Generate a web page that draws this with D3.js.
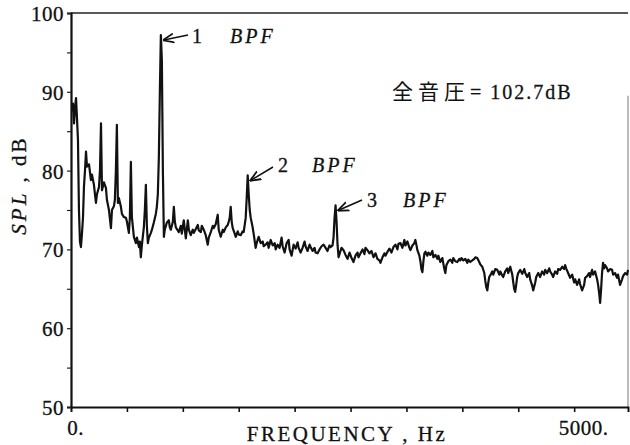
<!DOCTYPE html>
<html><head><meta charset="utf-8">
<script src="https://cdn.jsdelivr.net/npm/d3@7"></script>
<style>body{margin:0;background:#fff}svg{display:block}
svg text{font-family:"Liberation Serif","DejaVu Serif",serif}
svg text.cjk{font-family:"Noto Sans CJK JP","Noto Sans CJK SC",sans-serif}</style>
</head><body><svg id="c" width="630" height="445"></svg>
<script>
const freqHz = [10,20,30,40,50,60,69,79,89,99,109,119,129,139,149,159,179,198,208,228,238,248,258,278,288,298,308,327,347,357,377,397,407,427,436,446,456,466,476,496,506,526,546,556,575,585,595,605,625,645,655,675,684,694,704,724,734,744,754,764,774,794,804,823,843,853,863,873,883,893,903,913,923,932,952,972,982,992,1002,1012,1022,1032,1042,1061,1071,1091,1101,1121,1131,1141,1151,1161,1171,1190,1210,1220,1240,1260,1270,1290,1300,1319,1339,1359,1369,1389,1409,1419,1438,1448,1458,1468,1488,1508,1518,1538,1557,1567,1577,1587,1597,1607,1627,1637,1657,1667,1686,1706,1716,1736,1746,1756,1766,1776,1786,1805,1815,1835,1845,1855,1865,1885,1905,1915,1934,1954,1964,1984,2004,2024,2034,2053,2073,2093,2103,2123,2143,2163,2172,2192,2212,2232,2252,2262,2282,2301,2321,2331,2351,2371,2381,2401,2420,2430,2450,2470,2490,2510,2530,2549,2569,2579,2599,2609,2619,2629,2639,2649,2659,2678,2688,2708,2728,2748,2768,2788,2807,2827,2847,2857,2877,2897,2916,2926,2946,2966,2986,3006,3026,3045,3065,3075,3095,3115,3125,3145,3164,3184,3204,3224,3244,3254,3274,3293,3313,3323,3343,3363,3373,3393,3412,3422,3432,3442,3462,3472,3482,3492,3502,3512,3522,3541,3551,3571,3591,3601,3621,3641,3651,3670,3690,3700,3710,3720,3730,3750,3770,3789,3799,3819,3839,3859,3869,3879,3899,3918,3938,3948,3968,3988,4008,4018,4037,4057,4067,4087,4107,4117,4127,4137,4147,4156,4166,4186,4196,4216,4236,4256,4266,4285,4295,4315,4335,4345,4365,4385,4395,4404,4414,4424,4434,4444,4464,4484,4504,4514,4533,4553,4563,4583,4593,4613,4623,4643,4662,4682,4702,4712,4732,4752,4762,4781,4791,4811,4831,4841,4861,4881,4900,4910,4920,4940,4960,4980,5000,5010,5029,5049,5059,5079,5099,5109,5129,5148,5158,5178,5188,5208,5228,5238,5248,5258,5268,5277,5287,5297,5307,5327,5337,5357,5377,5387,5406,5426,5436,5456,5476,5486,5506,5526,5535];
const splDb = [87.5,88.5,86,88,89.2,86.5,84,75,71,70.3,72,74,78,80,82.4,80.5,80.8,78.8,79.5,78.2,77,75.9,77,77.9,80,86,77.5,78.5,77.8,76.3,75,72.7,75,75.5,76.3,80,85.8,75.9,76.5,75.4,74.5,74.1,74,73.5,72.1,74,81.1,74.1,71.6,70.8,71.5,70.3,71,69,70.5,72.8,75,78.2,73,70.8,71.5,72.1,72.5,73.4,74.5,75.4,77,81.7,90,97.2,94,80,71.6,72.5,73.4,73.7,72.8,72.5,73,73.5,75.4,73.5,72.8,72.4,72.2,73,72,73.7,72.5,71.4,72.5,73.7,72.5,71.8,72.5,72.1,72.6,73.1,72.4,72.2,73,72.5,71.8,70.6,71.5,72.2,73,72.7,73.2,73.8,74.4,72.5,71.6,72.5,72.2,72.8,73.1,73.5,74,75.4,73.5,72.7,72,71.6,72.3,71.9,71.8,72.3,72.2,74,76.5,79.4,77,75,74,72.8,72,70.2,70.8,71.2,71.6,70.8,71,70.4,70.6,70.9,70.2,71.2,70.5,70.8,70,70.6,70.2,71.5,70.4,69.6,70.8,71.2,70,69.2,70.6,70.1,70.9,70.2,69.6,70.2,71,70.4,69.8,70.6,70.3,69.8,70.2,69.6,69.5,70,70.4,70.6,70.2,69.8,70.5,70.3,70.5,71.5,74,75.6,73.5,70.5,69,69.8,70.2,69.9,69.3,68.8,69.6,68.9,68.4,69.2,69.6,69,69.5,70,69.4,70.2,69.9,69.5,69.8,69,69.5,68.8,68.6,68.3,69,69.5,69.2,69.7,70.1,69.6,70.3,70.6,70,70.7,70.8,70.2,71.2,70.5,71,70.2,69.9,70.5,70.8,71.2,70.6,69.9,69.2,68.5,67.5,67.1,68.5,69.5,69.7,69.2,69.6,69.3,69.8,69,69.3,68.8,69.2,68.4,68.9,68.2,67.5,67,68,68.5,68.7,68.3,68.9,68.5,68.4,68.8,68.6,68.9,68.6,68.8,68.3,68.7,68.4,68.6,68.8,69,68.9,68.4,68.1,67.8,67,66,65.2,64.8,65.8,66.5,66.7,67.2,66.8,67.5,67.4,66.8,67.2,66.7,66.5,67.2,67.6,67,67.8,66.8,65.8,65,64.6,65.5,66.5,67,67.4,66.9,67.5,67,66.5,67,66.2,65.4,64.8,65.8,66.5,67,66.5,67.2,66.8,67.4,67,67.6,67.2,66.8,66.5,67.2,66.9,67.5,67.4,67.8,67.5,68,67.6,67,66.4,66.8,65.8,66.2,65.5,66.2,65.6,64.8,65.5,66.4,66.6,67,66.5,67.4,66.8,67.2,66.2,65.5,64.5,63.2,65,67,68.3,67.6,68,67.6,67.2,67.5,67.4,66.8,67,66.4,66.8,65.5,66.2,66.6,67,66.8,67.4];
const yTickLabels = [50,60,70,80,90,100];
const yMinorTicks = [55,65,75,85,95];
const xTickValues = [0,1,2,3,4,5,6,7,8,9].map(k => k*5000/9);
const xTickLabels = {0:"0.", 5000:"5000."};
const peakLabels = [{n:"1", f:893, db:97.2}, {n:"2", f:1756, db:79.4}, {n:"3", f:2629, db:75.6}];
const totalText = ["全音圧", "= 102.7dB"];

const svg = d3.select("#c");
const x = d3.scaleLinear().domain([0, 5535]).range([71, 628]);
const y = d3.scaleLinear().domain([50, 100]).range([407, 13]);

// frame
svg.append("line").attr("x1",71).attr("x2",628).attr("y1",y(100)).attr("y2",y(100)).attr("stroke","#222").attr("stroke-width",1.6);
svg.append("line").attr("x1",628).attr("x2",628).attr("y1",y(89.5)).attr("y2",y(50)).attr("stroke","#777").attr("stroke-width",1);

// y axis
const yAxis = d3.axisLeft(y).tickValues(yTickLabels.concat(yMinorTicks)).tickSize(4).tickPadding(3)
  .tickFormat(d => yTickLabels.includes(d) ? d : "");
const gy = svg.append("g").attr("transform","translate(71,0)").call(yAxis);
gy.attr("font-family", null);
gy.select(".domain").attr("stroke","#111").attr("stroke-width",2.2);
gy.selectAll(".tick line").attr("stroke","#222").attr("stroke-width",1.2);
gy.selectAll(".tick text").attr("font-size",21).attr("fill","#111")
  .attr("stroke","#111").attr("stroke-width",0.3).attr("letter-spacing","0.5px").attr("dy","0.36em");

// x axis
const xAxis = d3.axisBottom(x).tickValues(xTickValues).tickSize(5).tickPadding(8)
  .tickFormat(d => xTickLabels[Math.round(d)] || "");
const gx = svg.append("g").attr("transform","translate(0,407)").call(xAxis);
gx.attr("font-family", null);
gx.select(".domain").attr("stroke","#111").attr("stroke-width",2);
gx.selectAll(".tick line").attr("stroke","#111").attr("stroke-width",1.6).filter(d => d===0).remove();
gx.selectAll(".tick text").attr("font-size",21).attr("fill","#111")
  .attr("stroke","#111").attr("stroke-width",0.3).attr("letter-spacing","0.5px")
  .attr("dx", d => d===0 ? 4 : 9);

// spectrum
const pts = freqHz.map((f,i) => [f, splDb[i]]);
svg.append("path").datum(pts)
  .attr("d", d3.line().x(d => x(d[0])).y(d => y(d[1])))
  .attr("fill","none").attr("stroke","#111").attr("stroke-width",2.2).attr("stroke-linejoin","round");

// axis titles
svg.append("text").attr("x",347).attr("y",441).attr("text-anchor","middle")
  .attr("font-size",21).attr("letter-spacing","2.5px").attr("fill","#111")
  .attr("stroke","#111").attr("stroke-width",0.3).text("FREQUENCY , Hz");
const yt = svg.append("text").attr("transform","translate(26,185) rotate(-90)").attr("text-anchor","middle")
  .attr("font-size",21).attr("fill","#111").attr("letter-spacing","3px")
  .attr("stroke","#111").attr("stroke-width",0.3);
yt.append("tspan").attr("font-style","italic").text("SPL");
yt.append("tspan").text(" , dB");

// peak annotations
const offs = [{tx:192, ty:43, ax1:188, ay1:35, bx:230}, {tx:278, ty:172, ax1:273, ay1:167, bx:312}, {tx:367, ty:207, ax1:362, ay1:200, bx:403}];
svg.append("defs").append("marker").attr("id","ah").attr("viewBox","0 0 10 10").attr("refX",9).attr("refY",5)
  .attr("markerWidth",7).attr("markerHeight",7).attr("orient","auto-start-reverse")
  .append("path").attr("d","M0,1 L10,5 L0,9").attr("fill","none").attr("stroke","#111").attr("stroke-width",1.6);
peakLabels.forEach((p,i) => {
  const o = offs[i];
  svg.append("line").attr("x1",o.ax1).attr("y1",o.ay1).attr("x2",x(p.f)+3).attr("y2",y(p.db)+5)
    .attr("stroke","#111").attr("stroke-width",1.6).attr("marker-end","url(#ah)");
  svg.append("text").attr("x",o.tx).attr("y",o.ty).attr("font-size",20).attr("fill","#111")
    .attr("stroke","#111").attr("stroke-width",0.3).text(p.n);
  svg.append("text").attr("x",o.bx).attr("y",o.ty).attr("font-size",20).attr("font-style","italic")
    .attr("letter-spacing","3px").attr("fill","#111").attr("stroke","#111").attr("stroke-width",0.3).text("BPF");
});

// total level
svg.append("text").attr("class","cjk").attr("x",392).attr("y",99)
  .attr("font-size",21).attr("letter-spacing","5px").attr("fill","#111").text(totalText[0]);
svg.append("text").attr("x",470).attr("y",99).attr("font-size",20).attr("letter-spacing","2px")
  .attr("fill","#111").attr("stroke","#111").attr("stroke-width",0.3).text(totalText[1]);
</script></body></html>
